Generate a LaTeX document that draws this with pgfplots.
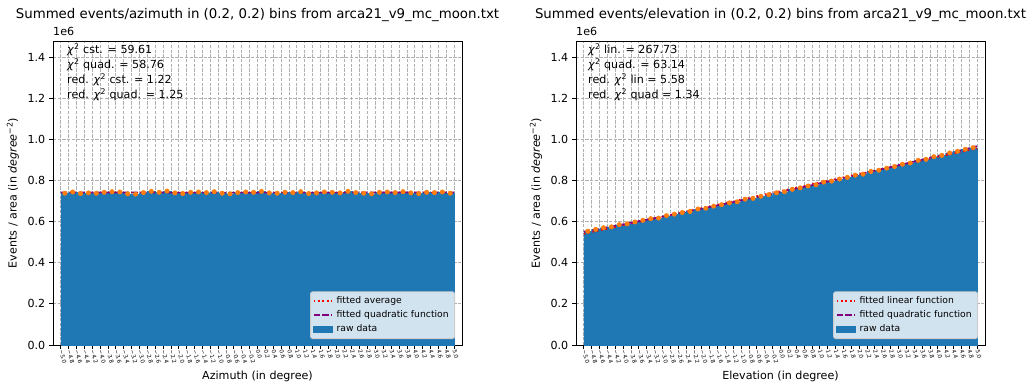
\documentclass[border=0pt]{standalone}
\usepackage{fontspec}
\setmainfont{DejaVu Sans}
\usepackage{pgfplots}
\usepackage{pgfplotstable}
\pgfplotsset{compat=1.18}

\definecolor{mplblue}{HTML}{1F77B4}
\definecolor{mplorange}{HTML}{FF7F0E}
\definecolor{fitred}{HTML}{FF0000}
\definecolor{fitpurple}{HTML}{800080}
\definecolor{gridgray}{HTML}{B0B0B0}
\definecolor{legedge}{HTML}{CCCCCC}

% summed events per unit area, in units of 1e6, per 0.2 degree bin (bin centres)
\pgfplotstableread{
mid val err
-4.9 0.7390 0.0015
-4.7 0.7450 0.0015
-4.5 0.7375 0.0015
-4.3 0.7405 0.0015
-4.1 0.7390 0.0015
-3.9 0.7435 0.0015
-3.7 0.7465 0.0015
-3.5 0.7450 0.0015
-3.3 0.7360 0.0015
-3.1 0.7345 0.0015
-2.9 0.7420 0.0015
-2.7 0.7480 0.0015
-2.5 0.7435 0.0015
-2.3 0.7495 0.0015
-2.1 0.7405 0.0015
-1.9 0.7375 0.0015
-1.7 0.7435 0.0015
-1.5 0.7450 0.0015
-1.3 0.7420 0.0015
-1.1 0.7465 0.0015
-0.9 0.7390 0.0015
-0.7 0.7360 0.0015
-0.5 0.7420 0.0015
-0.3 0.7450 0.0015
-0.1 0.7435 0.0015
0.1 0.7480 0.0015
0.3 0.7405 0.0015
0.5 0.7390 0.0015
0.7 0.7435 0.0015
0.9 0.7420 0.0015
1.1 0.7465 0.0015
1.3 0.7375 0.0015
1.5 0.7405 0.0015
1.7 0.7450 0.0015
1.9 0.7435 0.0015
2.1 0.7405 0.0015
2.3 0.7480 0.0015
2.5 0.7420 0.0015
2.7 0.7390 0.0015
2.9 0.7360 0.0015
3.1 0.7435 0.0015
3.3 0.7450 0.0015
3.5 0.7420 0.0015
3.7 0.7465 0.0015
3.9 0.7405 0.0015
4.1 0.7375 0.0015
4.3 0.7435 0.0015
4.5 0.7420 0.0015
4.7 0.7450 0.0015
4.9 0.7390 0.0015
}\azidata

\pgfplotstableread{
mid val err
-4.9 0.554 0.0015
-4.7 0.563 0.0015
-4.5 0.571 0.0015
-4.3 0.575 0.0015
-4.1 0.586 0.0015
-3.9 0.590 0.0015
-3.7 0.599 0.0015
-3.5 0.607 0.0015
-3.3 0.615 0.0015
-3.1 0.618 0.0015
-2.9 0.630 0.0015
-2.7 0.637 0.0015
-2.5 0.645 0.0015
-2.3 0.650 0.0015
-2.1 0.662 0.0015
-1.9 0.666 0.0015
-1.7 0.676 0.0015
-1.5 0.683 0.0015
-1.3 0.692 0.0015
-1.1 0.697 0.0015
-0.9 0.710 0.0015
-0.7 0.714 0.0015
-0.5 0.724 0.0015
-0.3 0.732 0.0015
-0.1 0.741 0.0015
0.1 0.746 0.0015
0.3 0.758 0.0015
0.5 0.765 0.0015
0.7 0.774 0.0015
0.9 0.780 0.0015
1.1 0.793 0.0015
1.3 0.798 0.0015
1.5 0.808 0.0015
1.7 0.816 0.0015
1.9 0.827 0.0015
2.1 0.832 0.0015
2.3 0.845 0.0015
2.5 0.851 0.0015
2.7 0.861 0.0015
2.9 0.869 0.0015
3.1 0.880 0.0015
3.3 0.886 0.0015
3.5 0.899 0.0015
3.7 0.904 0.0015
3.9 0.917 0.0015
4.1 0.923 0.0015
4.3 0.935 0.0015
4.5 0.943 0.0015
4.7 0.953 0.0015
4.9 0.961 0.0015
}\elevdata

\pgfplotsset{
  panel/.style={
    scale only axis, width=368.1pt, height=273.6pt,
    xmin=-5.2, xmax=5.2, ymin=0, ymax=1.48,
    clip=false,
    axis line style={black, line width=0.8pt},
    tick align=outside, xtick pos=left, ytick pos=left,
    major tick length=3.5pt,
    major tick style={black, line width=0.8pt},
    xtick={-5.0,-4.8,-4.6,-4.4,-4.2,-4.0,-3.8,-3.6,-3.4,-3.2,-3.0,-2.8,-2.6,-2.4,-2.2,-2.0,-1.8,-1.6,-1.4,-1.2,-1.0,-0.8,-0.6,-0.4,-0.2,0.0,0.2,0.4,0.6,0.8,1.0,1.2,1.4,1.6,1.8,2.0,2.2,2.4,2.6,2.8,3.0,3.2,3.4,3.6,3.8,4.0,4.2,4.4,4.6,4.8,5.0},
    xticklabels={−5.0,−4.8,−4.6,−4.4,−4.2,−4.0,−3.8,−3.6,−3.4,−3.2,−3.0,−2.8,−2.6,−2.4,−2.2,−2.0,−1.8,−1.6,−1.4,−1.2,−1.0,−0.8,−0.6,−0.4,−0.2,0.0,0.2,0.4,0.6,0.8,1.0,1.2,1.4,1.6,1.8,2.0,2.2,2.4,2.6,2.8,3.0,3.2,3.4,3.6,3.8,4.0,4.2,4.4,4.6,4.8,5.0},
    xticklabel style={font=\fontsize{5}{6}\selectfont, rotate=-75, anchor=west, inner sep=1pt},
    ytick={0,0.2,0.4,0.6,0.8,1.0,1.2,1.4},
    yticklabels={0.0,0.2,0.4,0.6,0.8,1.0,1.2,1.4},
    yticklabel style={font=\fontsize{10}{12}\selectfont},
    grid=major,
    grid style={gridgray, line width=0.8pt, dash pattern=on 2.96pt off 1.28pt},
    title style={at={(0.5,1)}, anchor=base, yshift=14pt, font=\fontsize{12}{14}\selectfont},
    every axis x label/.style={at={(rel axis cs:0.5,0)}, anchor=center, yshift=-28pt, font=\fontsize{10}{12}\selectfont},
    every axis y label/.style={at={(rel axis cs:0,0.5)}, xshift=-36pt, rotate=90, anchor=center, font=\fontsize{10}{12}\selectfont},
    ylabel={Events / area (in \textit{degree}\textsuperscript{−2})},
    legend cell align=left,
    legend style={at={(1,0)}, anchor=south east, xshift=-6.3pt, yshift=5.4pt,
      fill=white, fill opacity=0.8, text opacity=1, draw=legedge, line width=0.8pt,
      rounded corners=2pt, inner sep=2pt, row sep=0pt,
      font=\fontsize{8.3}{10}\selectfont,
      nodes={text height=6.3pt, text depth=2pt, inner ysep=2.2pt, inner xsep=3.3pt}},
    legend image code/.code={\draw[##1, fill opacity=1, draw opacity=1, sharp corners] (0pt,0pt) -- (16.7pt,0pt);},
    bars/.style={ybar, bar width=0.2, fill=mplblue, draw=mplblue, line width=0.1pt},
    errs/.style={mplorange, only marks, mark=none,
      error bars/y dir=both, error bars/y explicit,
      error bars/error bar style={color=mplorange, solid, line width=0.6pt},
      error bars/error mark options={color=mplorange, solid, mark size=1.6pt, line width=1pt}},
    redfit/.style={fitred, line width=1.5pt, dash pattern=on 1.5pt off 2.47pt},
    purplefit/.style={fitpurple, line width=1.5pt, dash pattern=on 5.55pt off 2.4pt},
  },
  rawlegend/.style={legend image code/.code={\fill[mplblue, fill opacity=1, sharp corners] (0pt,-2.9pt) rectangle (16.7pt,2.9pt);}},
}

\newcommand{\chisq}{\textit{χ}\textsuperscript{2}}

\begin{document}
\begin{tikzpicture}
\useasboundingbox (0,0) rectangle (929.7pt,-346.5pt);

% azimuth
\begin{axis}[panel, at={(47.7pt,-310.5pt)}, anchor=south west,
  title={Summed events/azimuth in (0.2, 0.2) bins from arca21\_v9\_mc\_moon.txt},
  xlabel={Azimuth (in degree)}]
\addplot[bars, forget plot] table[x=mid, y=val] {\azidata};
\addplot[errs, forget plot] table[x=mid, y=val, y error=err] {\azidata};
\addplot[redfit] coordinates {(-5,0.7420) (5,0.7420)};
\addlegendentry{fitted average}
\addplot[purplefit] coordinates {(-5,0.7428) (-4,0.7424) (-3,0.7422) (-2,0.7420) (-1,0.7418) (0,0.7418) (1,0.7418) (2,0.7420) (3,0.7422) (4,0.7424) (5,0.7428)};
\addlegendentry{fitted quadratic function}
\addlegendimage{rawlegend}
\addlegendentry{raw data}
\node[anchor=base west, font=\fontsize{10}{12}\selectfont, inner sep=0pt] at (rel axis cs:0,1) [yshift=5pt] {1e6};
\node[anchor=north west, align=left, inner sep=0pt, font=\fontsize{10}{13.5}\selectfont] at (rel axis cs:0,1) [xshift=12.6pt, yshift=-2pt]
  {\chisq\ cst. = 59.61\\ \chisq\ quad. = 58.76\\ red. \chisq\ cst. = 1.22\\ red. \chisq\ quad. = 1.25};
\end{axis}

% elevation
\begin{axis}[panel, at={(518.4pt,-310.5pt)}, anchor=south west,
  title={Summed events/elevation in (0.2, 0.2) bins from arca21\_v9\_mc\_moon.txt},
  xlabel={Elevation (in degree)}]
\addplot[bars, forget plot] table[x=mid, y=val] {\elevdata};
\addplot[errs, forget plot] table[x=mid, y=val, y error=err] {\elevdata};
\addplot[redfit] coordinates {(-5,0.5416) (5,0.9576)};
\addlegendentry{fitted linear function}
\addplot[purplefit] coordinates {(-5,0.5516) (-4,0.5878) (-3,0.6252) (-2,0.6638) (-1,0.7036) (0,0.7446) (1,0.7868) (2,0.8302) (3,0.8748) (4,0.9206) (5,0.9676)};
\addlegendentry{fitted quadratic function}
\addlegendimage{rawlegend}
\addlegendentry{raw data}
\node[anchor=base west, font=\fontsize{10}{12}\selectfont, inner sep=0pt] at (rel axis cs:0,1) [yshift=5pt] {1e6};
\node[anchor=north west, align=left, inner sep=0pt, font=\fontsize{10}{13.5}\selectfont] at (rel axis cs:0,1) [xshift=10.8pt, yshift=-2pt]
  {\chisq\ lin. = 267.73\\ \chisq\ quad. = 63.14\\ red. \chisq\ lin = 5.58\\ red. \chisq\ quad = 1.34};
\end{axis}
\end{tikzpicture}
\end{document}
